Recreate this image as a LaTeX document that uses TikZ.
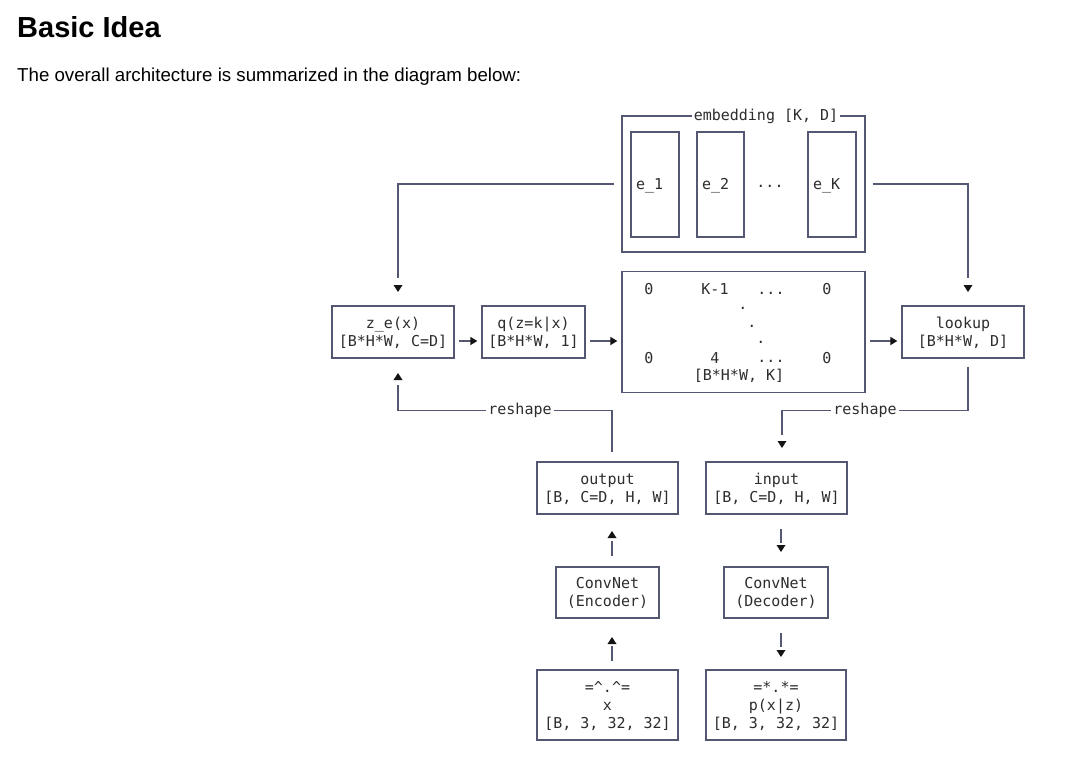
\documentclass[tikz,border=0pt]{standalone}
\usepackage{fontspec}
\setmainfont{Liberation Sans}
\newfontfamily\monofam{DejaVu Sans Mono}
\usetikzlibrary{arrows.meta}
\definecolor{linec}{RGB}{85,88,115}
\definecolor{textc}{RGB}{45,45,45}
\definecolor{tipc}{RGB}{20,20,20}
\newcommand\ms{\rule[-4pt]{0pt}{18pt}}
\newcommand\mfont{\monofam\fontsize{15}{18}\selectfont}
\newcommand\tipdown[1]{\fill[tipc] (#1) -- ++(-4.5,-7) -- ++(9,0) -- cycle;}
\newcommand\tipup[1]{\fill[tipc] (#1) -- ++(-4.5,7) -- ++(9,0) -- cycle;}
\begin{document}
\begin{tikzpicture}[x=1pt,y=-1pt,
  box/.style={draw=linec, line width=1.3pt, inner sep=0pt, align=center, font=\mfont, text=textc},
  ebox/.style={draw=linec, line width=1.3pt, inner xsep=5pt, inner ysep=0pt, align=left, minimum height=105pt, font=\mfont, text=textc},
  conn/.style={draw=linec, line width=1.3pt},
  arr/.style={-{Triangle[length=7pt,width=8pt,color=tipc]}},
  lbl/.style={font=\mfont, text=textc, fill=white, inner xsep=2pt, inner ysep=1pt, anchor=base},
  mtxt/.style={font=\mfont, text=textc, inner sep=0pt, anchor=base}]
\useasboundingbox[fill=white] (0,0) rectangle (1068,761);

% heading
\node[anchor=base west, inner sep=0pt, font=\fontsize{29}{34}\selectfont\bfseries] (title) at (17,37) {Basic Idea};
\node[anchor=base west, inner sep=0pt, font=\fontsize{18.7}{22}\selectfont] (sub) at (17,81) {The overall architecture is summarized in the diagram below:};

% embedding
\node[box, minimum width=243pt, minimum height=136pt] (emb) at (743.5,184) {};
\node[lbl] (embl) at (766,120) {embedding [K, D]};
\node[ebox, text width=38pt] (e1) at (655,184.5) {\ms e\_1};
\node[ebox, text width=37pt] (e2) at (720.5,184.5) {\ms e\_2};
\node[mtxt] (edots) at (770,187) {...};
\node[ebox, text width=38pt] (eK) at (832,184.5) {\ms e\_K};

% matrix
\node[box, minimum width=243pt, minimum height=121pt] (mat) at (743.5,332) {};
\node[mtxt] (m1) at (649,294.5) {0};
\node[mtxt] (m2) at (715,294.5) {K-1};
\node[mtxt] (m3) at (771,294.5) {...};
\node[mtxt] (m4) at (827,294.5) {0};
\node[mtxt] (d1) at (743,309.2) {.};
\node[mtxt] (d2) at (752,327.2) {.};
\node[mtxt] (d3) at (761,343.2) {.};
\node[mtxt] (m5) at (649,363.5) {0};
\node[mtxt] (m6) at (715,363.5) {4};
\node[mtxt] (m7) at (771,362) {...};
\node[mtxt] (m8) at (827,363.5) {0};
\node[mtxt] (m9) at (739,380.5) {[B*H*W, K]};

% boxes
\node[box, minimum width=122pt, minimum height=52pt] (ze) at (393,332) {\ms z\_e(x)\\{}\ms[B*H*W, C=D]};
\node[box, minimum width=103pt, minimum height=52pt] (q) at (533.5,332) {\ms q(z=k|x)\\{}\ms[B*H*W, 1]};
\node[box, minimum width=122pt, minimum height=52pt] (lookup) at (963,332) {\ms lookup\\{}\ms[B*H*W, D]};
\node[box, minimum width=141pt, minimum height=52pt] (output) at (607.5,488) {\ms output\\{}\ms[B, C=D, H, W]};
\node[box, minimum width=141pt, minimum height=52pt] (input) at (776.5,488) {\ms input\\{}\ms[B, C=D, H, W]};
\node[box, minimum width=103pt, minimum height=51pt] (enc) at (607.5,592.5) {\ms ConvNet\\{}\ms(Encoder)};
\node[box, minimum width=104pt, minimum height=51pt] (dec) at (776,592.5) {\ms ConvNet\\{}\ms(Decoder)};
\node[box, minimum width=141pt, minimum height=70pt] (xin) at (607.5,705) {\ms =\textasciicircum.\textasciicircum=\\{}\ms x\\{}\ms[B, 3, 32, 32]};
\node[box, minimum width=140pt, minimum height=70pt] (pout) at (776,705) {\ms =*.*=\\{}\ms p(x|z)\\{}\ms[B, 3, 32, 32]};

% connectors from embedding
\coordinate (ca) at (398,278);
\draw[conn] ([xshift=-7pt]emb.west) -| (ca);
\tipdown{398,292}
\coordinate (cb) at (968,278);
\draw[conn] ([xshift=7pt]emb.east) -| (cb);
\tipdown{968,292}

% horizontal arrows
\draw[conn, arr] ([shift={(4,9)}]ze.east) -- ([shift={(-4,9)}]q.west);
\draw[conn, arr] ([shift={(4,9)}]q.east) -- ([shift={(-4,9)}]mat.west);
\draw[conn, arr] ([shift={(4,9)}]mat.east) -- ([shift={(-4,9)}]lookup.west);

% reshape right
\coordinate (rr1) at (782,410.5);
\coordinate (rr2) at (782,435);
\draw[conn] ([shift={(5,8)}]lookup.south) |- (rr1) -- (rr2);
\node[lbl] (rsR) at (865,414.5) {reshape};
\tipdown{782,448}

% reshape left
\coordinate (rl1) at (398,410.5);
\coordinate (rl2) at (398,385);
\draw[conn] ([shift={(4.5,-9)}]output.north) |- (rl1) -- (rl2);
\node[lbl] (rsL) at (520,414.5) {reshape};
\tipup{398,373}

% encoder column
\coordinate (co) at (612,541);
\draw[conn] ([shift={(4.5,-10)}]enc.north) -- (co);
\tipup{612,531}
\coordinate (ce) at (612,646);
\draw[conn] ([shift={(4.5,-8)}]xin.north) -- (ce);
\tipup{612,637}

% decoder column
\coordinate (cd) at (781,543);
\draw[conn] ([shift={(4.5,14)}]input.south) -- (cd);
\tipdown{781,552}
\coordinate (cp) at (781,647);
\draw[conn] ([shift={(5,14)}]dec.south) -- (cp);
\tipdown{781,657}
\end{tikzpicture}
\end{document}
